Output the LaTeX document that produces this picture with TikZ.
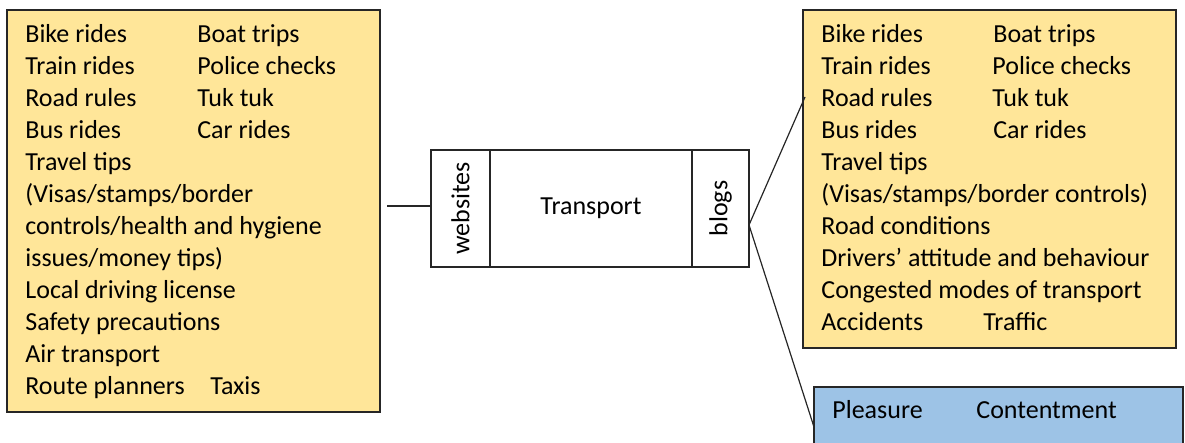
\documentclass[tikz,border=0pt]{standalone}
\usepackage{fontspec}
\usepackage{graphicx}
\setmainfont{Carlito}
\usetikzlibrary{positioning}
\definecolor{myyellow}{HTML}{FFE699}
\definecolor{myblue}{HTML}{9DC3E6}
\newcommand{\tabbed}[3][86pt]{\makebox[#1][l]{#2}#3}

\begin{document}
\begin{tikzpicture}[x=0.5pt, y=-0.5pt, font=\fontsize{13}{16}\selectfont]
\useasboundingbox (0,0) rectangle (1185,443);
\tikzset{BoxStyle/.style ={draw=black!85, line width=0.6pt, inner sep=0, outer sep=0, anchor=north west}}
\tikzset{ListStyle/.style ={inner sep=0, anchor=north west, align=left}}
\tikzset{CellStyle/.style ={draw=black!85, line width=0.6pt, inner sep=0, outer sep=0, minimum height=58.5pt}}
\tikzset{LinkStyle/.style ={draw=black!85, line width=0.6pt}}
% the three boxes of topics
\node[BoxStyle, fill=myyellow, minimum width=186.5pt, minimum height=201pt] (websrc) at (7,10) {};
\node[BoxStyle, fill=myyellow, minimum width=186.5pt, minimum height=169pt] (blogsrc) at (803,10) {};
\node[BoxStyle, fill=myblue, minimum width=184.5pt, minimum height=50pt] (feel) at (814,387) {};
\node[ListStyle, below right=4.8pt and 9pt of websrc.north west] (weblist) {\strut\tabbed{Bike rides}{Boat trips}\\
  \tabbed{Train rides}{Police checks}\\
  \tabbed{Road rules}{Tuk tuk}\\
  \tabbed{Bus rides}{Car rides}\\
  Travel tips\\
  (Visas/stamps/border\\
  controls/health and hygiene\\
  issues/money tips)\\
  Local driving license\\
  Safety precautions\\
  Air transport\\
  \tabbed[92.5pt]{Route planners}{Taxis}};
\node[ListStyle, below right=4.8pt and 9pt of blogsrc.north west] (bloglist) {\strut\tabbed{Bike rides}{Boat trips}\\
  \tabbed[85.5pt]{Train rides}{Police checks}\\
  \tabbed[85.5pt]{Road rules}{Tuk tuk}\\
  \tabbed{Bus rides}{Car rides}\\
  Travel tips\\
  (Visas/stamps/border controls)\\
  Road conditions\\
  Drivers’ attitude and behaviour\\
  Congested modes of transport\\
  \tabbed[81pt]{Accidents}{Traffic}};
\node[ListStyle, below right=4.3pt and 9pt of feel.north west] (feellist) {\strut\tabbed[72pt]{Pleasure}{Contentment}};
% transport in the middle
\node[CellStyle, minimum width=29.5pt] (webcell) at (460.5,208.5) {\rotatebox{90}{websites}};
\node[CellStyle, minimum width=101pt, right=0pt of webcell] (topic) {Transport};
\node[CellStyle, minimum width=28.5pt, right=0pt of topic] (blogcell) {\rotatebox{90}{blogs}};
% links
\draw[LinkStyle, shorten >=3.5pt] ([yshift=1.25pt]webcell.west) -- ([yshift=1.25pt]websrc.east |- webcell.west);
\coordinate (fork) at ([yshift=-8.25pt]blogcell.east);
\draw[LinkStyle] (fork) -- ([shift={(1pt,-43.5pt)}]blogsrc.north west);
\draw[LinkStyle] (fork) -- ([yshift=-20pt]feel.north west);
\end{tikzpicture}
\end{document}
